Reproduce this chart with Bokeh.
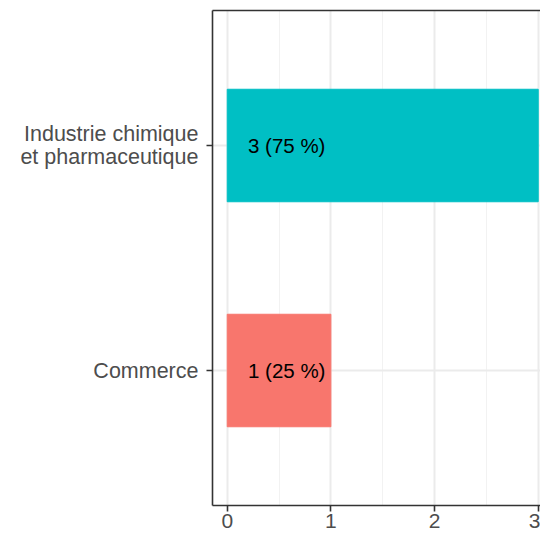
from bokeh.plotting import figure
from bokeh.models import ColumnDataSource, FixedTicker, LinearAxis, Range1d
from bokeh.core.properties import value
from bokeh.embed import file_html
from bokeh.resources import INLINE

categories = ["Commerce", "Industrie chimique\net pharmaceutique"]
counts = [1, 3]
percents = [25, 75]
colors = ["#F8766D", "#00BFC4"]
x_ticks = [0, 1, 2, 3]

ypos = list(range(1, len(categories) + 1))
labels = [f"{c} ({p} %)" for c, p in zip(counts, percents)]
src = ColumnDataSource(dict(y=ypos, n=counts, color=colors, label=labels,
                            lx=[0.2] * len(counts)))

FONT = "Liberation Sans"
p = figure(width=540, height=537, output_backend="svg", toolbar_location=None,
           x_range=Range1d(-0.142, 3.022), y_range=Range1d(0.4, 2.6),
           min_border_left=212, min_border_right=0, min_border_top=10,
           min_border_bottom=32, x_axis_location=None, y_axis_location=None)
p.outline_line_color = None
p.background_fill_color = "white"
p.border_fill_color = "white"

p.hbar(y="y", left=0, right="n", height=0.5, color="color", source=src)
p.text(x="lx", y="y", text="label", source=src, text_align="left",
       text_baseline="middle", text_font=value(FONT), text_font_size="20.5px",
       text_color="black")

# grids
p.xgrid.ticker = FixedTicker(ticks=x_ticks, minor_ticks=[0.5, 1.5, 2.5])
p.xgrid.grid_line_color = "#EBEBEB"
p.xgrid.grid_line_width = 2
p.xgrid.minor_grid_line_color = "#F2F2F2"
p.xgrid.minor_grid_line_width = 1
p.ygrid.ticker = FixedTicker(ticks=ypos)
p.ygrid.grid_line_color = "#EBEBEB"
p.ygrid.grid_line_width = 2

def style(ax, size):
    ax.axis_line_color = "#333333"
    ax.axis_line_width = 1.6
    ax.major_tick_line_color = "#333333"
    ax.major_tick_line_width = 1.6
    ax.major_tick_out = 6
    ax.major_tick_in = 0
    ax.minor_tick_out = 0
    ax.minor_tick_in = 0
    ax.major_label_text_font = FONT
    ax.major_label_text_color = "#4D4D4D"
    ax.major_label_text_font_size = size
    ax.major_label_text_line_height = 0.92

xa = LinearAxis(ticker=FixedTicker(ticks=x_ticks))
style(xa, "21px")
xa.major_label_standoff = 2
p.add_layout(xa, "below")

ya = LinearAxis(ticker=FixedTicker(ticks=ypos))
style(ya, "21.5px")
ya.major_label_standoff = 8
ya.major_label_overrides = {y: c for y, c in zip(ypos, categories)}
p.add_layout(ya, "left")

ta = LinearAxis(ticker=FixedTicker(ticks=[]))
ta.axis_line_color = "#333333"
ta.axis_line_width = 1.6
ta.major_tick_out = 0
ta.major_tick_in = 0
ta.minor_tick_out = 0
ta.minor_tick_in = 0
ta.major_label_standoff = 0
ta.major_label_text_font_size = "0px"
p.add_layout(ta, "above")

open("out.html", "w").write(file_html(p, INLINE))
